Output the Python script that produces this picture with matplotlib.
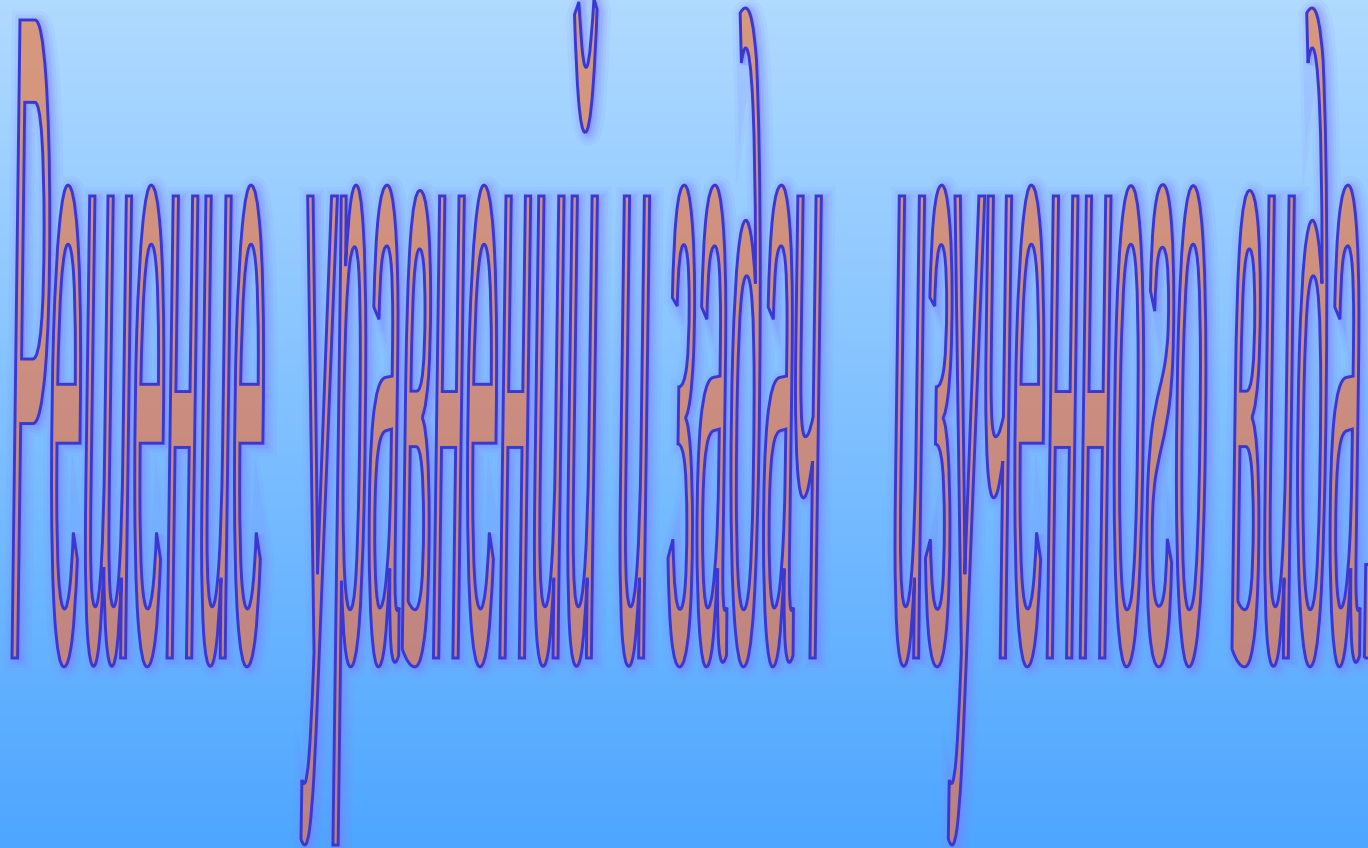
import numpy as np
import matplotlib
matplotlib.use("Agg")
import matplotlib.pyplot as plt
import matplotlib.colors as mcolors
from matplotlib.textpath import TextPath
from matplotlib.font_manager import FontProperties
from matplotlib.path import Path
from matplotlib.patches import PathPatch

# text and colours
words = ["Решение", "уравнений", "и", "задач", "изученного", "вида."]
word_left = [12, 301, 620, 668, 895, 1232]      # left edge of each word, px
word_width = [256, 296, 27, 152, None, None]    # measured widths used to fit the stretch
bg_colors = ["#b0daff", "#4ea6ff"]
fill_colors = ["#d8997d", "#bb8082"]
edge_color = "#3a38d0"
glow_color = "#7f7fff"

# vertical guide lines of the lettering, px from the top
y_desc, y_base, y_xh, y_cap, y_asc = 845, 658, 196, 20, 8

W, H = 1368, 848
fig = plt.figure(figsize=(13.68, 8.48), dpi=100)
ax = fig.add_axes([0, 0, 1, 1])
ax.set_xlim(0, W)
ax.set_ylim(H, 0)
ax.axis('off')

# background gradient
grad = np.linspace(0, 1, 256)[:, None]
cmap_bg = mcolors.LinearSegmentedColormap.from_list('bg', bg_colors)
ax.imshow(grad, cmap=cmap_bg, extent=[0, W, H, 0], aspect='auto', zorder=0)

fp = FontProperties(family='Liberation Sans', style='italic')
def tpath(s):
    return TextPath((0, 0), s, size=100, prop=fp)

# font metrics -> piecewise vertical stretch
f_desc = tpath("у").get_extents().y0
f_xh = tpath("н").get_extents().y1
f_cap = tpath("Р").get_extents().y1
f_asc = tpath("д").get_extents().y1
fy = [f_desc, 0.0, f_xh, f_cap]
py = [y_desc, y_base, y_xh, y_cap]
if f_asc > f_cap + 0.5:
    fy.append(f_asc)
    py.append(y_asc)
fy, py = np.array(fy), np.array(py, dtype=float)

def map_y(y):
    out = np.interp(y, fy, py)
    lo_slope = (py[1] - py[0]) / (fy[1] - fy[0])
    hi_slope = (py[3] - py[2]) / (fy[3] - fy[2]) * 0.6
    out = np.where(y < fy[0], py[0] + (y - fy[0]) * lo_slope, out)
    out = np.where(y > fy[-1], py[-1] + (y - fy[-1]) * hi_slope, out)
    return out

paths = [tpath(w) for w in words]
ext = [p.get_extents() for p in paths]
fw = sum(e.width for e, w in zip(ext, word_width) if w)
sx = sum(w for w in word_width if w) / fw

verts, codes = [], []
for p, e, x0 in zip(paths, ext, word_left):
    v = p.vertices
    verts.append(np.column_stack([x0 + (v[:, 0] - e.x0) * sx, map_y(v[:, 1])]))
    codes.append(p.codes)
xy = np.vstack(verts)
cd = np.concatenate(codes)
art = Path(xy, cd)

# soft blue glow, a bit to the right
glow = Path(xy + np.array([3, 2]), cd)
for lw, a in [(16, 0.08), (11, 0.11), (7, 0.14), (4, 0.18)]:
    ax.add_patch(PathPatch(glow, fc=glow_color, ec=glow_color, lw=lw, alpha=a, zorder=1))

# gradient fill clipped to the letters
clip = PathPatch(art, fc='none', ec='none', zorder=2)
ax.add_patch(clip)
cmap_fill = mcolors.LinearSegmentedColormap.from_list('fill', fill_colors)
im = ax.imshow(grad, cmap=cmap_fill, extent=[0, W, H, 0], aspect='auto', zorder=2)
im.set_clip_path(clip)

ax.add_patch(PathPatch(art, fc='none', ec=edge_color, lw=2.1, zorder=3))

fig.savefig("out.png", dpi=100)
